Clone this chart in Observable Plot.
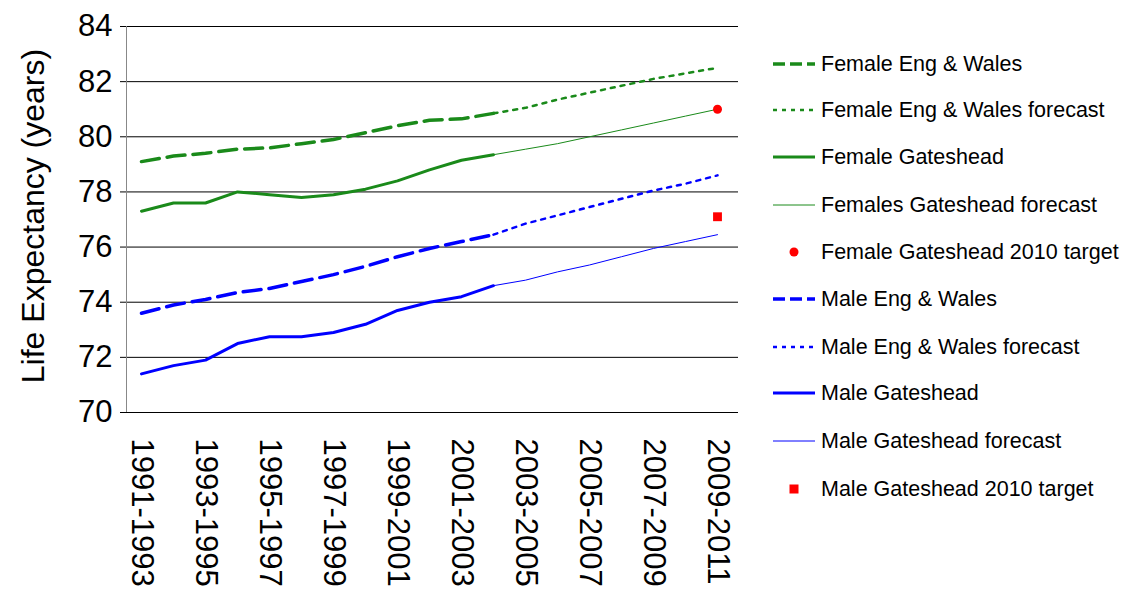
<!DOCTYPE html><html><head><meta charset="utf-8">
<script src="https://cdn.jsdelivr.net/npm/d3@7"></script>
<script src="https://cdn.jsdelivr.net/npm/@observablehq/plot@0.6"></script>
<style>body{margin:0;background:#fff;font-family:"Liberation Sans",Arial,sans-serif}#c{position:relative;width:1127px;height:593px;overflow:hidden}
.lg{position:absolute;left:773px;font-size:21.5px;display:flex;align-items:center;height:24px;white-space:nowrap}
#yl{position:absolute;left:33px;top:216px;transform:translate(-50%,-50%) rotate(-90deg);font-size:32px;white-space:nowrap}</style></head><body><div id="c"><div id="yl">Life Expectancy (years)</div></div>
<script>
const periods=["1991-1993","1992-1994","1993-1995","1994-1996","1995-1997","1996-1998","1997-1999","1998-2000","1999-2001","2000-2002","2001-2003","2002-2004","2003-2005","2004-2006","2005-2007","2006-2008","2007-2009","2008-2010","2009-2011"];
const femEW=[79.1,79.3,79.4,79.55,79.6,79.75,79.9,80.15,80.4,80.6,80.65,80.85];
const femEWf=[80.85,81.05,81.35,81.6,81.85,82.1,82.3,82.5];
const femG=[77.3,77.6,77.6,78.0,77.9,77.8,77.9,78.1,78.4,78.8,79.15,79.35];
const femGf=[79.35,79.55,79.75,80.0,80.25,80.5,80.75,81.0];
const maleEW=[73.6,73.9,74.1,74.35,74.5,74.75,75.0,75.3,75.65,75.95,76.2,76.45];
const maleEWf=[76.45,76.85,77.15,77.45,77.75,78.05,78.3,78.6];
const maleG=[71.4,71.7,71.9,72.5,72.75,72.75,72.9,73.2,73.7,74.0,74.2,74.6];
const maleGf=[74.6,74.8,75.1,75.35,75.65,75.95,76.2,76.45];
const femTarget=81.0, maleTarget=77.1;
const G="#1a8a1a",B="#0000ff";
const hist=v=>v.map((y,i)=>({x:periods[i],y}));
const fc=v=>v.map((y,i)=>({x:periods[i+11],y}));
const plot=Plot.plot({width:1127,height:593,marginLeft:120,marginRight:389,marginTop:26,marginBottom:181,
 style:{fontFamily:"Liberation Sans, Arial, sans-serif",background:"transparent",color:"#000"},
 x:{type:"point",domain:periods,padding:0.42,label:null},
 y:{domain:[70,84],label:null},
 marks:[
  Plot.ruleY(d3.range(70,85,2),{stroke:"#000",strokeWidth:1}),
  Plot.line(hist(femEW),{x:"x",y:"y",stroke:G,strokeWidth:3.5,strokeDasharray:"18,8"}),
  Plot.line(fc(femEWf),{x:"x",y:"y",stroke:G,strokeWidth:2.5,strokeDasharray:"4,6"}),
  Plot.line(hist(femG),{x:"x",y:"y",stroke:G,strokeWidth:3}),
  Plot.line(fc(femGf),{x:"x",y:"y",stroke:G,strokeWidth:1}),
  Plot.line(hist(maleEW),{x:"x",y:"y",stroke:B,strokeWidth:3.5,strokeDasharray:"18,8"}),
  Plot.line(fc(maleEWf),{x:"x",y:"y",stroke:B,strokeWidth:2.5,strokeDasharray:"4,6"}),
  Plot.line(hist(maleG),{x:"x",y:"y",stroke:B,strokeWidth:3}),
  Plot.line(fc(maleGf),{x:"x",y:"y",stroke:B,strokeWidth:1}),
  Plot.dot([{x:periods[18],y:femTarget}],{x:"x",y:"y",fill:"red",r:4.5}),
  Plot.dot([{x:periods[18],y:maleTarget}],{x:"x",y:"y",fill:"red",symbol:"square",r:5}),
  Plot.axisY({ticks:d3.range(70,85,2),tickSize:0,tickPadding:8,fontSize:31}),
  Plot.axisX({ticks:periods.filter((d,i)=>i%2==0),tickSize:0,tickRotate:90,tickPadding:26,textAnchor:"start",fontSize:31}),
  Plot.ruleX([periods[0]],{dx:-15,stroke:"#888"})
 ]});
document.getElementById("c").appendChild(plot);
const items=[["Female Eng & Wales",G,3.5,"12,5"],["Female Eng & Wales forecast",G,2.5,"4,5"],["Female Gateshead",G,3,null],["Females Gateshead forecast",G,1,null],["Female Gateshead 2010 target","dot"],["Male Eng & Wales",B,3.5,"12,5"],["Male Eng & Wales forecast",B,2.5,"4,5"],["Male Gateshead",B,3,null],["Male Gateshead forecast",B,1,null],["Male Gateshead 2010 target","sq"]];
const ys=[64,110,157,205,252,299,347,393,441,489];
items.forEach((it,i)=>{const d=document.createElement("div");d.className="lg";d.style.top=(ys[i]-12)+"px";
 let s;if(it[1]=="dot")s='<circle cx="21" cy="12" r="4.5" fill="red"/>';else if(it[1]=="sq")s='<rect x="16.5" y="7.5" width="9" height="9" fill="red"/>';
 else s=`<line x1="0" x2="42" y1="12" y2="12" stroke="${it[1]}" stroke-width="${it[2]}" ${it[3]?`stroke-dasharray="${it[3]}"`:""}/>`;
 d.innerHTML=`<svg width="48" height="24">${s}</svg><span>${it[0]}</span>`;document.getElementById("c").appendChild(d);});
</script></body></html>
